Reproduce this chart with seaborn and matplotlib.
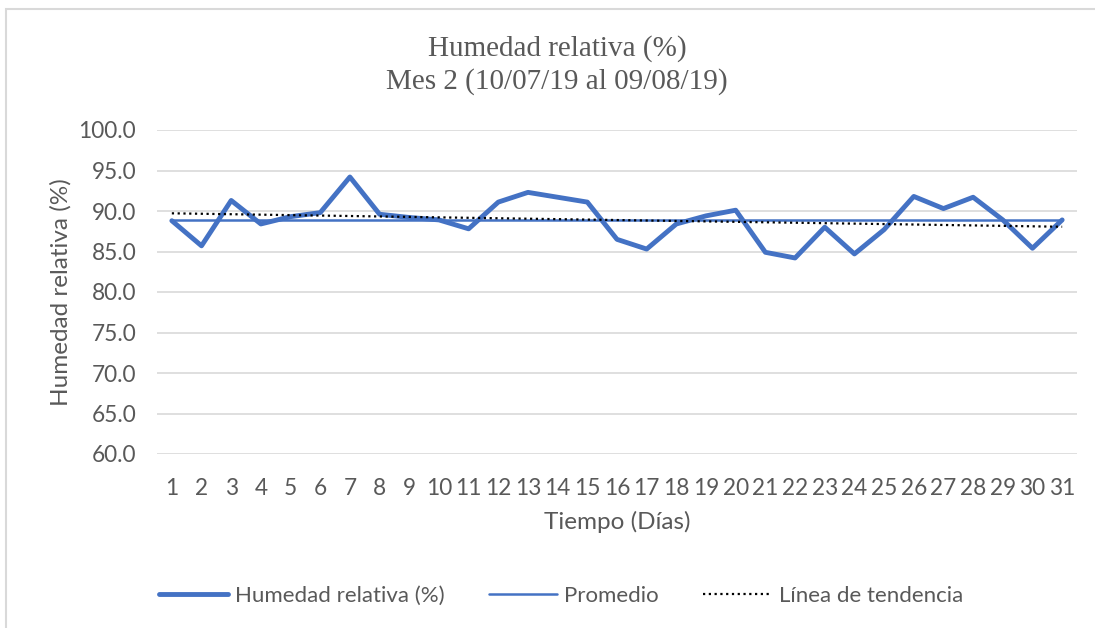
import numpy as np
import pandas as pd
import seaborn as sns
import matplotlib.pyplot as plt
from matplotlib.patches import Rectangle

# datos
dias = list(range(1, 32))
humedad = [88.8, 85.7, 91.3, 88.4, 89.3, 89.8, 94.2, 89.6, 89.2, 88.9,
           87.8, 91.1, 92.3, 91.7, 91.1, 86.5, 85.3, 88.4, 89.4, 90.1,
           84.9, 84.2, 88.0, 84.7, 87.7, 91.8, 90.3, 91.7, 88.9, 85.4, 88.9]
y_ticks = [60, 65, 70, 75, 80, 85, 90, 95, 100]

df = pd.DataFrame({'dia': dias, 'humedad': humedad})
df['promedio'] = df['humedad'].mean()
# línea de tendencia lineal (como en Excel)
m, b = np.polyfit(df['dia'], df['humedad'], 1)
df['tendencia'] = m * df['dia'] + b

sns.set_style("white")
plt.rcParams['font.family'] = ['Lato', 'DejaVu Sans']

azul = '#4472C4'
gris = '#595959'

fig = plt.figure(figsize=(10.95, 6.28), dpi=100)
ax = fig.add_axes([157 / 1095, 1 - 454 / 628, 920 / 1095, 324 / 628])

sns.lineplot(data=df, x='dia', y='humedad', ax=ax, color=azul, lw=3.5,
             label='Humedad relativa (%)', legend=False)
sns.lineplot(data=df, x='dia', y='promedio', ax=ax, color=azul, lw=1.8,
             label='Promedio', legend=False)
sns.lineplot(data=df, x='dia', y='tendencia', ax=ax, color='black', lw=1.6,
             linestyle=(0, (1, 1.6)), label='Línea de tendencia', legend=False)

ax.set_xlim(0.5, 31.5)
ax.set_ylim(60, 100)
ax.set_xticks(dias)
ax.set_xticklabels([str(d) for d in dias])
ax.set_yticks(y_ticks)
ax.set_yticklabels([f'{v:.1f}' for v in y_ticks])
ax.grid(axis='y', color='#D9D9D9', lw=1.2)
ax.grid(axis='x', visible=False)
ax.set_axisbelow(True)
for s in ax.spines.values():
    s.set_visible(False)
ax.tick_params(axis='both', length=0, labelsize=16.3, colors=gris)
ax.tick_params(axis='x', pad=17)
ax.tick_params(axis='y', pad=15)

ax.set_xlabel('Tiempo (Días)', fontsize=17.5, color=gris, labelpad=9)
ax.set_ylabel('Humedad relativa (%)', fontsize=17.5, color=gris, labelpad=5)

fig.text(557 / 1095, 1 - 49 / 628, 'Humedad relativa (%)', ha='center', va='center',
         family='Liberation Serif', fontsize=21, color=gris)
fig.text(557 / 1095, 1 - 82 / 628, 'Mes 2 (10/07/19 al 09/08/19)', ha='center', va='center',
         family='Liberation Serif', fontsize=21, color=gris)

handles, labels = ax.get_legend_handles_labels()
fig.legend(handles, labels, loc='center', bbox_to_anchor=(561 / 1095, 1 - 596 / 628),
           ncol=3, frameon=False, fontsize=16, labelcolor=gris,
           handlelength=3.1, handletextpad=0.3, columnspacing=2.0)

# marco del área del gráfico
fig.patches.append(Rectangle((6 / 1095, -0.1), 1.2, 1 - 9 / 628 + 0.1,
                             transform=fig.transFigure, fill=False,
                             edgecolor='#D9D9D9', lw=1.5))

fig.savefig('out.png', dpi=100)
